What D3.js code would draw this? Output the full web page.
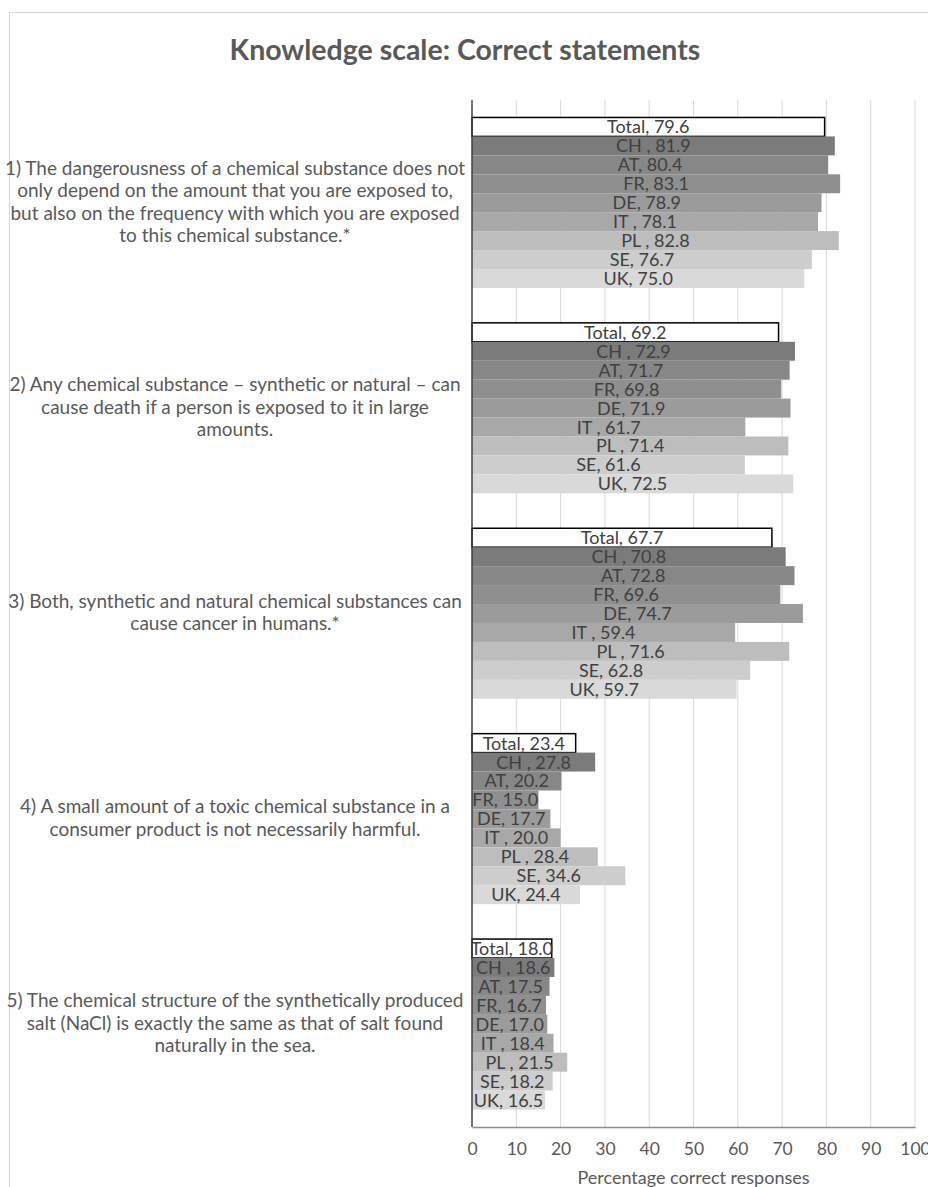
<!DOCTYPE html>
<html>
<head>
<meta charset="utf-8">
<script src="https://cdn.jsdelivr.net/npm/d3@7"></script>
<style>
  body { margin: 0; background: #fff; }
  text { font-family: Lato, "Open Sans", sans-serif; }
</style>
</head>
<body>
<div id="chart"></div>
<script>
// statements (already split into lines as in the picture)
const statements = [
  ["1) The dangerousness of a chemical substance does not",
   "only depend on the amount that you are exposed to,",
   "but also on the frequency with which you are exposed",
   "to this chemical substance.*"],
  ["2) Any chemical substance \u2013 synthetic or natural \u2013 can",
   "cause death if a person is exposed to it in large",
   "amounts."],
  ["3) Both, synthetic and natural chemical substances can",
   "cause cancer in humans.*"],
  ["4) A small amount of a toxic chemical substance in a",
   "consumer product is not necessarily harmful."],
  ["5) The chemical structure of the synthetically produced",
   "salt (NaCl) is exactly the same as that of salt found",
   "naturally in the sea."]
];

// series: Total + countries (labels keep the odd spacing of the original)
const series = ["Total", "CH", "AT", "FR", "DE", "IT", "PL", "SE", "UK"];
const seriesLabel = ["Total", "CH ", "AT", "FR", "DE", "IT ", "PL ", "SE", "UK"];

const total = [79.6, 69.2, 67.7, 23.4, 18.0];
const ch    = [81.9, 72.9, 70.8, 27.8, 18.6];
const at    = [80.4, 71.7, 72.8, 20.2, 17.5];
const fr    = [83.1, 69.8, 69.6, 15.0, 16.7];
const de    = [78.9, 71.9, 74.7, 17.7, 17.0];
const it    = [78.1, 61.7, 59.4, 20.0, 18.4];
const pl    = [82.8, 71.4, 71.6, 28.4, 21.5];
const se    = [76.7, 61.6, 62.8, 34.6, 18.2];
const uk    = [75.0, 72.5, 59.7, 24.4, 16.5];

const xTicks = [0, 10, 20, 30, 40, 50, 60, 70, 80, 90, 100];

const values = [total, ch, at, fr, de, it, pl, se, uk];
const fills = ["#ffffff", "#7b7b7b", "#878787", "#8f8f8f", "#9b9b9b",
               "#a8a8a8", "#bdbdbd", "#cdcdcd", "#d9d9d9"];

const width = 928, height = 1187;
const mLeft = 472, mRight = 915, mTop = 100, mBottom = 1127;

const svg = d3.select("#chart").append("svg")
  .attr("width", width)
  .attr("height", height);

// chart frame
svg.append("rect")
  .attr("x", 9.5).attr("y", 12.5)
  .attr("width", 940).attr("height", 1200)
  .attr("fill", "none").attr("stroke", "#d9d9d9");

svg.append("text")
  .attr("x", 465).attr("y", 60)
  .attr("text-anchor", "middle")
  .attr("font-size", 28.5).attr("font-weight", "bold")
  .attr("fill", "#595959")
  .text("Knowledge scale: Correct statements");

const x = d3.scaleLinear().domain([0, 100]).range([mLeft, mRight]);

const y0 = d3.scaleBand()
  .domain(d3.range(statements.length))
  .range([mTop, mBottom])
  .paddingInner(0.17)
  .paddingOuter(0.085);

const y1 = d3.scaleBand()
  .domain(series)
  .range([0, y0.bandwidth()]);

// grid
svg.append("g")
  .selectAll("line")
  .data(xTicks.slice(1))
  .join("line")
  .attr("x1", d => x(d)).attr("x2", d => x(d))
  .attr("y1", mTop).attr("y2", mBottom)
  .attr("stroke", "#d9d9d9");

// x axis
const xAxis = svg.append("g")
  .attr("transform", `translate(0,${mBottom})`)
  .call(d3.axisBottom(x).tickValues(xTicks).tickSize(0).tickPadding(16));
xAxis.select(".domain").attr("stroke", "#8c8c8c").attr("stroke-width", 1.5);
xAxis.selectAll("text")
  .attr("font-size", 17.5)
  .attr("fill", "#595959")
  .style("font-family", "Lato, sans-serif");

svg.append("text")
  .attr("x", x(50)).attr("y", 1184)
  .attr("text-anchor", "middle")
  .attr("font-size", 18)
  .attr("fill", "#595959")
  .text("Percentage correct responses");

// bars
const groups = svg.append("g")
  .selectAll("g")
  .data(statements)
  .join("g")
  .attr("transform", (d, i) => `translate(0,${y0(i)})`);

groups.each(function(lines, gi) {
  const g = d3.select(this);
  const rows = series.map((s, si) => ({
    key: s, label: seriesLabel[si], value: values[si][gi], fill: fills[si]
  }));

  g.selectAll("rect")
    .data(rows)
    .join("rect")
    .attr("x", x(0))
    .attr("y", d => y1(d.key))
    .attr("width", d => x(d.value) - x(0))
    .attr("height", y1.bandwidth())
    .attr("fill", d => d.fill)
    .attr("stroke", d => d.key === "Total" ? "#000" : "none")
    .attr("stroke-width", 1.5);

  g.selectAll("text.val")
    .data(rows)
    .join("text")
    .attr("class", "val")
    .attr("x", d => (x(0) + x(d.value)) / 2)
    .attr("y", d => y1(d.key) + y1.bandwidth() / 2)
    .attr("dy", "0.36em")
    .attr("text-anchor", "middle")
    .attr("font-size", 18)
    .attr("fill", "#404040")
    .text(d => `${d.label}, ${d.value.toFixed(1)}`);

  // statement text on the left
  const lh = 22.5;
  const cy = y0.bandwidth() / 2;
  g.append("text")
    .attr("text-anchor", "middle")
    .attr("font-size", 19)
    .attr("fill", "#595959")
    .selectAll("tspan")
    .data(lines)
    .join("tspan")
    .attr("x", 235)
    .attr("y", (d, i) => cy + (i - (lines.length - 1) / 2) * lh)
    .attr("dy", "0.3em")
    .text(d => d);
});

// value axis line at 0
svg.append("line")
  .attr("x1", x(0)).attr("x2", x(0))
  .attr("y1", mTop).attr("y2", mBottom)
  .attr("stroke", "#404040").attr("stroke-width", 1.5);
</script>
</body>
</html>
